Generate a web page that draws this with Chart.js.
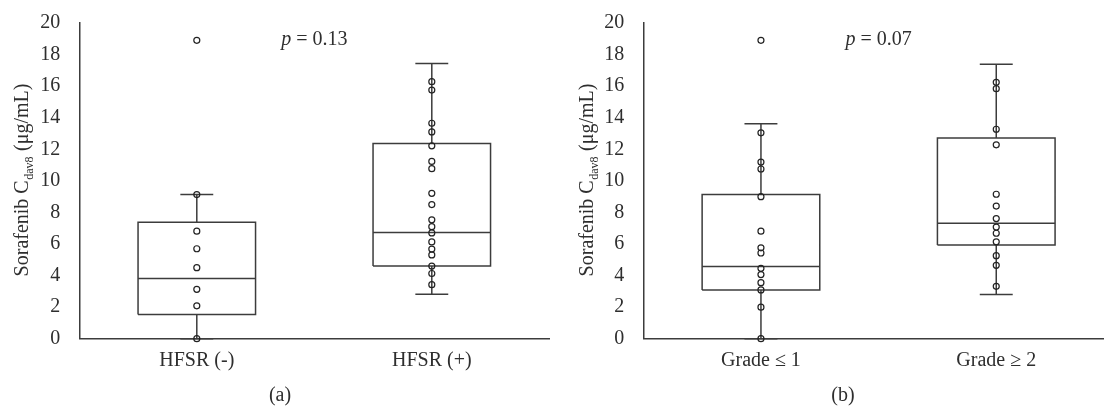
<!DOCTYPE html>
<html>
<head>
<meta charset="utf-8">
<script src="https://cdn.jsdelivr.net/npm/chart.js@4.4.1/dist/chart.umd.min.js"></script>
<style>
html, body { margin: 0; padding: 0; background: #fff; overflow: hidden; width: 1104px; height: 408px; }
#wa { position: absolute; left: 0; top: 0; width: 560px; height: 408px; }
#wb { position: absolute; left: 544px; top: 0; width: 580px; height: 408px; }
</style>
</head>
<body>
<div id="wa"><canvas id="ca"></canvas></div>
<div id="wb"><canvas id="cb"></canvas></div>
<script>
// ---------- DATA ----------
const yTickValues = [0, 2, 4, 6, 8, 10, 12, 14, 16, 18, 20];

// Panel (a)
const categoriesA = ['HFSR (-)', 'HFSR (+)'];
const minA = [0, 2.81];
const q1A = [1.54, 4.60];
const medianA = [3.81, 6.73];
const q3A = [7.38, 12.37];
const maxA = [9.13, 17.43];
const pointsA_neg = [18.9, 9.13, 6.81, 5.70, 4.50, 3.13, 2.08, 0];
const pointsA_pos = [16.28, 15.75, 13.65, 13.10, 12.22, 11.23, 10.77, 9.21, 8.50, 7.53, 7.10, 6.70, 6.13, 5.68, 5.31, 4.60, 4.13, 3.42];
const pLabelA = '0.13';
const panelLabelA = '(a)';

// Panel (b)
const categoriesB = ['Grade ≤ 1', 'Grade ≥ 2'];
const minB = [0, 2.80];
const q1B = [3.09, 5.93];
const medianB = [4.58, 7.31];
const q3B = [9.13, 12.72];
const maxB = [13.61, 17.39];
const pointsB_low = [18.9, 13.04, 11.19, 10.75, 9.00, 6.81, 5.76, 5.43, 4.46, 4.06, 3.55, 3.09, 2.00, 0];
const pointsB_high = [16.24, 15.84, 13.27, 12.28, 9.15, 8.40, 7.61, 7.07, 6.68, 6.14, 5.26, 4.65, 3.32];
const pLabelB = '0.07';
const panelLabelB = '(b)';

const yTitleMain = 'Sorafenib C';
const yTitleSub = 'dav8';
const yTitleUnit = ' (μg/mL)';

// ---------- STYLE ----------
const FONT = "'Liberation Serif', 'DejaVu Serif', serif";
const TEXT = '#2e2e2e';
const LINE = '#3c3c3c';
const BOX_HALF = 0.25;
const CAP_HALF = 0.07;

function buildDatasets(mins, q1s, meds, q3s, maxs, pointSets) {
  const box = [], med = [], whisk = [], caps = [];
  for (let i = 0; i < q1s.length; i++) {
    box.push({x: i - BOX_HALF, y: q1s[i]}, {x: i - BOX_HALF, y: q3s[i]},
             {x: i + BOX_HALF, y: q3s[i]}, {x: i + BOX_HALF, y: q1s[i]},
             {x: i - BOX_HALF, y: q1s[i]}, {x: i, y: null});
    med.push({x: i - BOX_HALF, y: meds[i]}, {x: i + BOX_HALF, y: meds[i]}, {x: i, y: null});
    whisk.push({x: i, y: q3s[i]}, {x: i, y: maxs[i]}, {x: i, y: null},
               {x: i, y: q1s[i]}, {x: i, y: mins[i]}, {x: i, y: null});
    caps.push({x: i - CAP_HALF, y: maxs[i]}, {x: i + CAP_HALF, y: maxs[i]}, {x: i, y: null},
              {x: i - CAP_HALF, y: mins[i]}, {x: i + CAP_HALF, y: mins[i]}, {x: i, y: null});
  }
  const pts = [];
  pointSets.forEach((arr, i) => arr.forEach(v => pts.push({x: i, y: v})));
  const lineDs = (data) => ({
    type: 'line', data, borderColor: LINE, borderWidth: 1.5, pointRadius: 0,
    fill: false, tension: 0, spanGaps: false, clip: false,
    borderCapStyle: 'butt', borderJoinStyle: 'miter'
  });
  return [
    { type: 'scatter', data: pts, pointStyle: 'circle', pointRadius: 3,
      pointBorderWidth: 1.2, pointBorderColor: '#222', pointBackgroundColor: 'rgba(0,0,0,0)',
      showLine: false, clip: false },
    lineDs(med), lineDs(box), lineDs(caps), lineDs(whisk)
  ];
}

const textPlugin = {
  id: 'texts',
  afterDraw(chart, args, opts) {
    const ctx = chart.ctx;
    const xs = chart.scales.x;
    ctx.save();
    ctx.fillStyle = TEXT;
    const big = "20px " + FONT, small = "12px " + FONT;
    ctx.font = big;
    const w1 = ctx.measureText(yTitleMain).width;
    const w3 = ctx.measureText(yTitleUnit).width;
    ctx.font = small;
    const w2 = ctx.measureText(yTitleSub).width + 1;
    const total = w1 + w2 + w3;
    ctx.translate(opts.titleX, opts.titleY);
    ctx.rotate(-Math.PI / 2);
    ctx.textBaseline = 'alphabetic';
    ctx.textAlign = 'left';
    let x0 = -total / 2;
    ctx.font = big; ctx.fillText(yTitleMain, x0, 0);
    ctx.font = small; ctx.fillText(yTitleSub, x0 + w1 + 0.5, 5);
    ctx.font = big; ctx.fillText(yTitleUnit, x0 + w1 + w2, 0);
    ctx.restore();

    ctx.save();
    ctx.fillStyle = TEXT;
    ctx.textBaseline = 'alphabetic';
    ctx.textAlign = 'left';
    const pItalic = "italic 20px " + FONT;
    const rest = ' = ' + opts.p;
    ctx.font = pItalic;
    const wp = ctx.measureText('p').width;
    ctx.font = big;
    const wr = ctx.measureText(rest).width;
    const cx = xs.getPixelForValue(0.5);
    const px = cx - (wp + wr) / 2;
    ctx.font = pItalic; ctx.fillText('p', px, opts.pY);
    ctx.font = big; ctx.fillText(rest, px + wp, opts.pY);

    ctx.textAlign = 'center';
    ctx.textBaseline = 'middle';
    ctx.font = big;
    ctx.fillText(opts.panel, opts.panelX, 396);
    ctx.restore();
  }
};

function makeChart(canvasId, cats, ds, yAxisWidth, padRight, xMin, xMax, textOpts) {
  return new Chart(document.getElementById(canvasId), {
    data: { datasets: ds },
    plugins: [textPlugin],
    options: {
      responsive: true,
      maintainAspectRatio: false,
      animation: false,
      events: [],
      layout: { padding: { left: 0, right: padRight, top: 21.5, bottom: 19.3 } },
      plugins: { legend: { display: false }, tooltip: { enabled: false }, texts: textOpts },
      scales: {
        x: {
          type: 'linear', min: xMin, max: xMax,
          grid: { display: false },
          border: { display: true, color: LINE, width: 1.5 },
          afterBuildTicks: (s) => { s.ticks = cats.map((c, i) => ({ value: i })); },
          afterFit: (s) => { s.height = 50; },
          ticks: {
            autoSkip: false, maxRotation: 0, padding: 2,
            color: TEXT, font: { family: FONT, size: 20 },
            callback: (v) => cats[v]
          }
        },
        y: {
          type: 'linear', min: 0, max: 20,
          grid: { display: false },
          border: { display: true, color: LINE, width: 1.5 },
          afterBuildTicks: (s) => { s.ticks = yTickValues.map(v => ({ value: v })); },
          afterFit: (s) => { s.width = yAxisWidth; },
          ticks: { padding: 11, color: TEXT, font: { family: FONT, size: 20 } }
        }
      }
    }
  });
}

makeChart('ca', categoriesA,
  buildDatasets(minA, q1A, medianA, q3A, maxA, [pointsA_neg, pointsA_pos]),
  79.3, 10.7, -0.5, 1.5,
  { titleX: 27.5, titleY: 180, p: pLabelA, pY: 45, panel: panelLabelA, panelX: 280 });

makeChart('cb', categoriesB,
  buildDatasets(minB, q1B, medianB, q3B, maxB, [pointsB_low, pointsB_high]),
  99.3, 10.1, -0.5, 1.5,
  { titleX: 49, titleY: 180, p: pLabelB, pY: 45, panel: panelLabelB, panelX: 299 });
</script>
</body>
</html>
